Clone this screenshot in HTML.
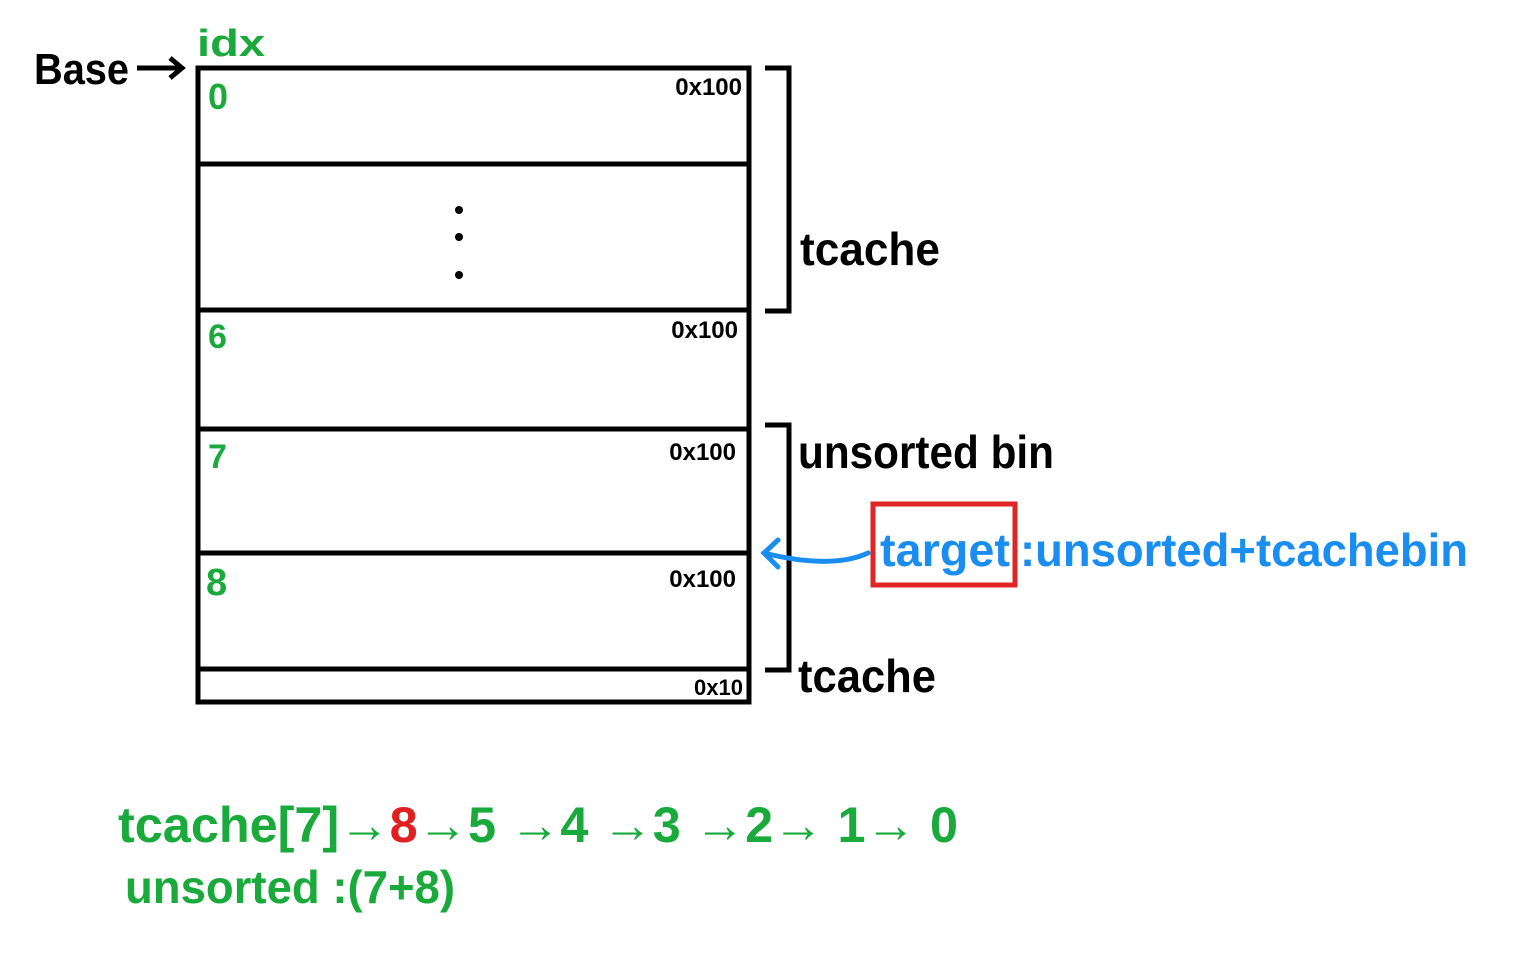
<!DOCTYPE html>
<html><head><meta charset="utf-8"><style>
html,body{margin:0;padding:0;background:#fff;}
svg{display:block}
text{font-family:"Liberation Sans",sans-serif;font-weight:bold;}
</style></head><body>
<svg width="1523" height="956" viewBox="0 0 1523 956" xmlns="http://www.w3.org/2000/svg">
<g stroke="#000" stroke-width="5" fill="none">
<rect x="198" y="68" width="551" height="634"/>
<line x1="198" y1="164" x2="749" y2="164"/>
<line x1="198" y1="310" x2="749" y2="310"/>
<line x1="198" y1="429" x2="749" y2="429"/>
<line x1="198" y1="553" x2="749" y2="553"/>
<line x1="198" y1="669" x2="749" y2="669"/>
<polyline points="765,68 789,68 789,311 765,311"/>
<polyline points="765,425 789,425 789,670 765,670"/>
<line x1="137" y1="68" x2="180" y2="68"/>
<polyline points="170,58 182,68 170,78"/>
</g>
<circle cx="459" cy="210" r="4"/><circle cx="459" cy="237" r="4"/><circle cx="459" cy="275" r="4"/>
<g fill="#000">
<text x="34" y="84" font-size="44" textLength="95" lengthAdjust="spacingAndGlyphs">Base</text>
<text x="742" y="95" font-size="24" font-weight="normal" text-anchor="end">0x100</text>
<text x="738" y="338" font-size="24" font-weight="normal" text-anchor="end">0x100</text>
<text x="736" y="460" font-size="24" font-weight="normal" text-anchor="end">0x100</text>
<text x="736" y="587" font-size="24" font-weight="normal" text-anchor="end">0x100</text>
<text x="743" y="695" font-size="22" font-weight="normal" text-anchor="end">0x10</text>
<text x="800" y="265" font-size="46" textLength="140" lengthAdjust="spacingAndGlyphs">tcache</text>
<text x="798" y="468" font-size="46" textLength="256" lengthAdjust="spacingAndGlyphs">unsorted bin</text>
<text x="798" y="692" font-size="46" textLength="138" lengthAdjust="spacingAndGlyphs">tcache</text>
</g>
<g fill="#1aaa3c">
<text x="197" y="56" font-size="38" textLength="68" lengthAdjust="spacingAndGlyphs">idx</text>
<text x="208" y="109" font-size="36">0</text>
<text x="208" y="348" font-size="34">6</text>
<text x="208" y="468" font-size="34">7</text>
<text x="206" y="595" font-size="38">8</text>
<text x="118" y="842" font-size="50" textLength="840" lengthAdjust="spacingAndGlyphs">tcache[7]→<tspan fill="#e02020">8</tspan>→5 →4 →3 →2→ 1→ 0</text>
<text x="125" y="903" font-size="46" textLength="330" lengthAdjust="spacingAndGlyphs">unsorted :(7+8)</text>
</g>
<rect x="873" y="504" width="142" height="81" fill="none" stroke="#e02525" stroke-width="5"/>
<path d="M868,553 C840,566 800,562 764,553" fill="none" stroke="#1a8ef0" stroke-width="5" stroke-linecap="round"/>
<polyline points="778,540 764,553 778,567" fill="none" stroke="#1a8ef0" stroke-width="5" stroke-linecap="round"/>
<g fill="#1a8ef0">
<text x="880" y="566" font-size="46" textLength="130" lengthAdjust="spacingAndGlyphs">target</text>
<text x="1020" y="566" font-size="46" textLength="448" lengthAdjust="spacingAndGlyphs">:unsorted+tcachebin</text>
</g>
</svg>
</body></html>
